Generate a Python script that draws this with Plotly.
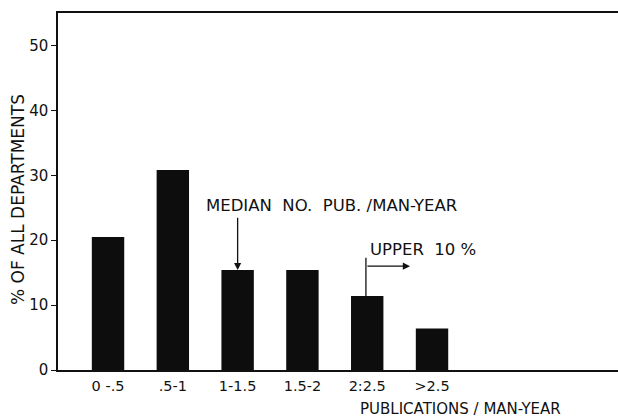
import plotly.graph_objects as go

categories = ["0-.5", ".5-1", "1-1.5", "1.5-2", "2-2.5", ">2.5"]
tick_labels = ["0 -.5", ".5-1", "1-1.5", "1.5-2", "2:2.5", ">2.5"]
percent_departments = [20.5, 30.8, 15.4, 15.4, 11.4, 6.4]
y_ticks = [0, 10, 20, 30, 40, 50]

FONT = "DejaVu Sans"
INK = "#111111"

fig = go.Figure()
fig.add_trace(go.Bar(
    x=categories, y=percent_departments,
    marker=dict(color="#0d0d0d", line=dict(width=0)),
    width=0.5,
    hoverinfo="skip",
))

median_idx = 2
upper_idx = 4

# Median arrow
fig.add_annotation(
    x=categories[median_idx], y=percent_departments[median_idx],
    ax=categories[median_idx], ay=23.7, axref="x", ayref="y",
    xref="x", yref="y", text="", showarrow=True,
    arrowhead=2, arrowsize=1.1, arrowwidth=1.3, arrowcolor=INK, standoff=0,
)
fig.add_annotation(
    x=1.48, y=25.3, xref="x", yref="y", text="MEDIAN  NO.  PUB. /MAN-YEAR",
    showarrow=False, xanchor="left", yanchor="middle",
    font=dict(family=FONT, size=16.5, color=INK),
)
# Upper 10% marker
fig.add_shape(type="line", xref="x", yref="y",
              x0=3.98, x1=3.98, y0=percent_departments[upper_idx], y1=17.3,
              line=dict(color=INK, width=1.3))
fig.add_annotation(
    x=4.66, y=16.0, ax=3.98, ay=16.0, axref="x", ayref="y",
    xref="x", yref="y", text="", showarrow=True,
    arrowhead=2, arrowsize=1.1, arrowwidth=1.3, arrowcolor=INK, standoff=0,
)
fig.add_annotation(
    x=4.01, y=18.5, xref="x", yref="y", text="UPPER  10 %",
    showarrow=False, xanchor="left", yanchor="middle",
    font=dict(family=FONT, size=16.5, color=INK),
)
# Axis titles
fig.add_annotation(
    x=(460 - 58) / 560, y=(370 - 409) / 357, xref="paper", yref="paper",
    text="PUBLICATIONS / MAN-YEAR", showarrow=False,
    xanchor="center", yanchor="middle",
    font=dict(family=FONT, size=15, color=INK),
)
fig.add_annotation(
    x=(18 - 58) / 560, y=(370 - 200) / 357, xref="paper", yref="paper",
    text="% OF ALL DEPARTMENTS", showarrow=False, textangle=-90,
    xanchor="center", yanchor="middle",
    font=dict(family=FONT, size=17, color=INK),
)

fig.update_layout(
    width=618, height=420,
    margin=dict(l=58, r=0, t=13, b=50, autoexpand=False),
    paper_bgcolor="white", plot_bgcolor="white",
    showlegend=False,
    font=dict(family=FONT, size=14, color=INK),
    xaxis=dict(
        type="category", range=[-0.772, 7.87],
        tickvals=categories, ticktext=tick_labels,
        showgrid=False, zeroline=False,
        showline=True, linecolor=INK, linewidth=1.5, mirror=True,
        ticks="", ticklabelstandoff=2,
        tickfont=dict(family=FONT, size=14.5, color=INK),
    ),
    yaxis=dict(
        range=[0, 55], tickvals=y_ticks,
        showgrid=False, zeroline=False,
        showline=True, linecolor=INK, linewidth=1.5,
        ticks="outside", ticklen=5, tickwidth=1.3, tickcolor=INK,
        tickfont=dict(family=FONT, size=15, color=INK),
    ),
)

fig.write_html(
    "out.html",
    config={"displayModeBar": False},
    post_script="document.body.style.margin='0';document.body.style.overflow='hidden';",
)
